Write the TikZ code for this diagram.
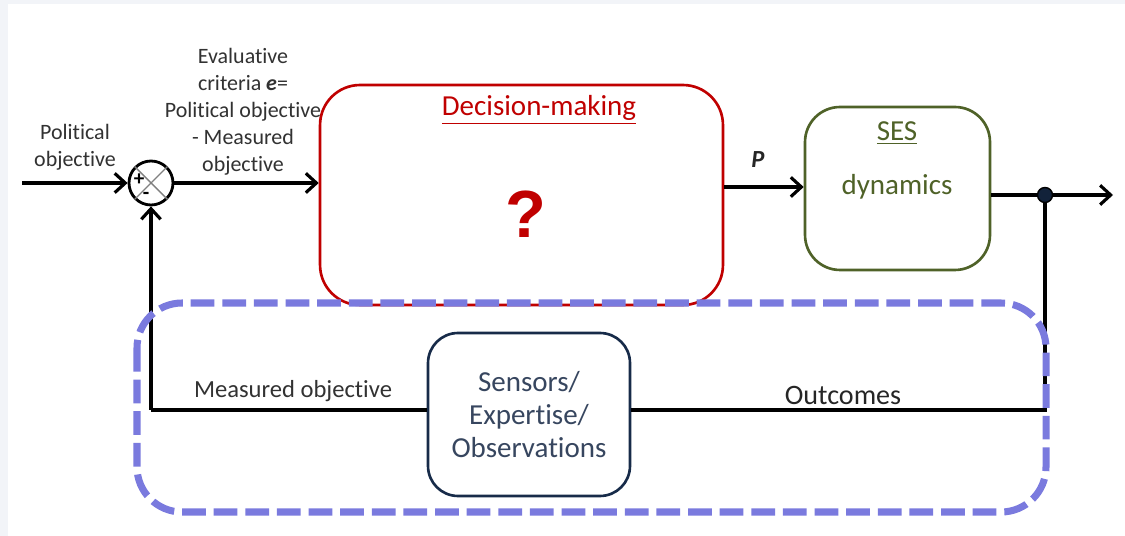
\documentclass[tikz,border=0pt]{standalone}
\usepackage{fontspec}
\setmainfont[Ligatures={NoCommon}]{Carlito}
\newfontfamily\qfont{Liberation Sans}
\usepackage{xcolor}
\usetikzlibrary{positioning,arrows.meta}

\definecolor{decred}{RGB}{192,0,0}
\definecolor{sesgreen}{RGB}{79,98,40}
\definecolor{sensnavy}{RGB}{23,43,73}
\definecolor{senstext}{RGB}{55,70,95}
\definecolor{loopblue}{RGB}{122,122,222}
\definecolor{labelgray}{RGB}{50,50,50}
\definecolor{framegray}{RGB}{242,244,248}

\begin{document}
\begin{tikzpicture}[
  x=0.02cm, y=-0.02cm,
  block/.style={draw, line width=1.5pt, align=center},
  lbl/.style={font=\fontsize{12.5}{15.3}\selectfont, text=labelgray, align=center, inner sep=0pt},
  arrow/.style={-{Straight Barb[length=6pt,width=11pt,line width=1.8pt]}, line width=2pt},
  wire/.style={line width=2pt, line join=miter}
]
% page frame
\fill[framegray] (0,0) rectangle (1125,536);
\fill[white] (8,4) rectangle (1125,536);
\useasboundingbox (0,0) rectangle (1125,536);

% blocks
\node[block, draw=decred, rounded corners=0.8cm, minimum width=8.06cm, minimum height=4.4cm] (dec) at (521.5,195) {};
\node[block, draw=sesgreen, rounded corners=0.7cm, minimum width=3.7cm, minimum height=3.26cm] (ses) at (897.5,188.5) {};
\node[block, draw=sensnavy, rounded corners=0.6cm, minimum width=4.04cm, minimum height=3.26cm,
  text=senstext, font=\fontsize{16.5}{18.8}\selectfont] (sens) at (529,414.5) {Sensors/\\Expertise/\\Observations};
\node[circle, draw, line width=1.6pt, minimum size=0.88cm, inner sep=0pt] (sum) at (151,183) {};
\draw[gray, line width=0.8pt] (sum.45) -- (sum.225) (sum.135) -- (sum.315);
\node[font=\bfseries\fontsize{12}{12}\selectfont, inner sep=0pt] at (139,180) {+};
\node[font=\bfseries\fontsize{12}{12}\selectfont, inner sep=0pt] at (146,196) {-};

% texts in the blocks
\node[text=decred, font=\fontsize{16.5}{18}\selectfont, inner sep=0pt] (dectitle) at (539,110) {\underline{Decision-making}};
\node[text=decred, font=\qfont\bfseries\fontsize{38}{38}\selectfont, inner sep=0pt] (q) at (526,214) {?};
\node[text=sesgreen, font=\fontsize{16.5}{18}\selectfont, inner sep=0pt] (sestitle) at (897,133) {\underline{SES}};
\node[text=sesgreen, font=\fontsize{16.5}{18}\selectfont, inner sep=0pt] (sesdyn) at (897,187) {dynamics};

% junction points
\coordinate (in) at (22,183);
\coordinate (out) at (1113,195);
\node[circle, fill=sensnavy!80!black, draw=black, line width=0.8pt, minimum size=0.3cm, inner sep=0pt] (branch) at (1045,195) {};
\coordinate (outcorner) at (1045,410);
\coordinate (meascorner) at (151,410);

% forward path
\draw[arrow] (in) -- (sum.west);
\draw[arrow] (sum.east) -- (sum.east -| dec.west);
\draw[arrow] (dec.east |- 0,187) -- (ses.west |- 0,187);
\draw[wire] (ses.east |- branch) -- (branch);
\draw[arrow] (branch) -- (out);

% feedback path
\draw[wire] (branch) -- (outcorner) -- (sens.east |- outcorner);
\draw[wire] (sens.west |- meascorner) -- (meascorner);
\draw[arrow] (meascorner) -- (sum.south);

% labels
\node[lbl] (polobj) at (75,147) {Political\\objective};
\node[lbl] (evalcrit) at (243,112) {Evaluative\\criteria \textbf{\textit{e}}=\\Political objective\\- Measured\\objective};
\node[lbl, font=\itshape\fontsize{14}{14}\selectfont, text=black!85] (plbl) at (758,160) {\textbf{P}};
\node[lbl, font=\fontsize{14}{14}\selectfont] (measlbl) at (293,391) {Measured objective};
\node[lbl, font=\fontsize{16}{16}\selectfont, text=black!85] (outlbl) at (843,395) {Outcomes};

% observation loop
\draw[loopblue, line width=4pt, dash pattern=on 13.5pt off 4.5pt, rounded corners=0.9cm]
  (137,303) rectangle (1046,512);
\end{tikzpicture}
\end{document}
